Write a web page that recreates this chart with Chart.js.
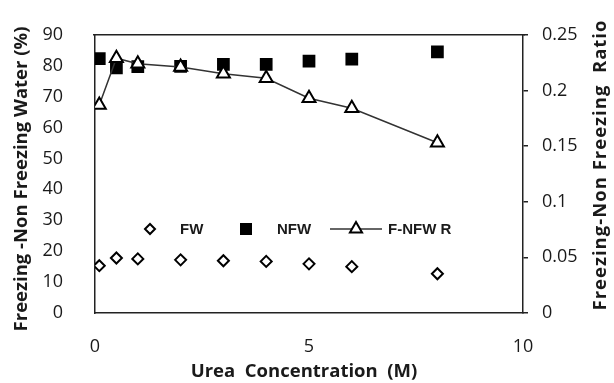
<!DOCTYPE html>
<html><head><meta charset="utf-8">
<script src="https://cdn.jsdelivr.net/npm/chart.js@4.4.0/dist/chart.umd.min.js"></script>
<style>html,body{margin:0;padding:0;background:#fff}#wrap{width:614px;height:383px}</style>
</head><body><div id="wrap"><canvas id="c" width="614" height="383"></canvas></div>
<script>
const urea = [0.1, 0.5, 1, 2, 3, 4, 5, 6, 8];
const fw = [15.3, 17.8, 17.5, 17.2, 16.9, 16.7, 15.9, 15.0, 12.7];
const nfw = [82.3, 79.3, 79.7, 79.8, 80.4, 80.4, 81.5, 82.1, 84.5];
const ratio = [0.187, 0.229, 0.224, 0.221, 0.215, 0.211, 0.193, 0.184, 0.153];
const xTicks = [0, 5, 10];
const leftTicks = [0, 10, 20, 30, 40, 50, 60, 70, 80, 90];
const rightTicks = [0, 0.05, 0.1, 0.15, 0.2, 0.25];
const seriesNames = ['FW', 'NFW', 'F-NFW R'];
const titles = {x: 'Urea  Concentration  (M)', left: 'Freezing -Non Freezing Water (%)', right: 'Freezing-Non Freezing  Ratio'};

const pts = (ys) => urea.map((x, i) => ({x, y: ys[i]}));
const TXT = '#1a1a1a';
const tickFont = {family: 'Open Sans', size: 18};

const overlay = {
  id: 'overlay',
  afterDraw(chart) {
    const ctx = chart.ctx, a = chart.chartArea;
    ctx.save();
    ctx.strokeStyle = '#222'; ctx.lineWidth = 1.5;
    ctx.beginPath(); ctx.moveTo(a.left - 2, a.top); ctx.lineTo(a.right + 2, a.top); ctx.stroke();
    ctx.fillStyle = TXT;
    ctx.font = 'bold 18.5px "Open Sans"';
    ctx.textAlign = 'center'; ctx.textBaseline = 'middle';
    ctx.fillText(titles.x, 304, 372);
    ctx.save(); ctx.translate(22, 179); ctx.rotate(-Math.PI/2); ctx.fillText(titles.left, 0, 0); ctx.restore();
    ctx.save(); ctx.translate(601, 165); ctx.rotate(-Math.PI/2); ctx.letterSpacing = '1px'; ctx.fillText(titles.right, 0, 0); ctx.restore();
    const ly = 229;
    const H = Chart.helpers;
    ctx.font = 'bold 15px "Liberation Sans"';
    ctx.textAlign = 'left';
    ctx.lineWidth = 2; ctx.strokeStyle = '#000'; ctx.fillStyle = '#fff';
    H.drawPoint(ctx, {pointStyle: 'rectRot', radius: 5, borderWidth: 2}, 150, ly);
    ctx.fillStyle = '#000';
    H.drawPoint(ctx, {pointStyle: 'rect', radius: 8.5, borderWidth: 0}, 246, ly);
    ctx.strokeStyle = '#333'; ctx.lineWidth = 1.5;
    ctx.beginPath(); ctx.moveTo(330, ly); ctx.lineTo(382, ly); ctx.stroke();
    ctx.fillStyle = '#fff'; ctx.strokeStyle = '#000'; ctx.lineWidth = 2;
    H.drawPoint(ctx, {pointStyle: 'triangle', radius: 7, borderWidth: 2}, 356, ly);
    ctx.fillStyle = TXT;
    ctx.fillText(seriesNames[0], 180, ly + 1);
    ctx.fillText(seriesNames[1], 277, ly + 1);
    ctx.fillText(seriesNames[2], 388, ly + 1);
    ctx.restore();
  }
};

new Chart(document.getElementById('c'), {
  type: 'scatter',
  data: {
    datasets: [
      {label: seriesNames[0], data: pts(fw), yAxisID: 'y', pointStyle: 'rectRot', pointRadius: 5.5, borderWidth: 2,
       borderColor: '#000', backgroundColor: '#fff', order: 3},
      {label: seriesNames[1], data: pts(nfw), yAxisID: 'y', pointStyle: 'rect', pointRadius: 9, borderWidth: 0,
       borderColor: '#000', backgroundColor: '#000', order: 2},
      {label: seriesNames[2], data: pts(ratio), yAxisID: 'y1', showLine: true, pointStyle: 'triangle', pointRadius: 7.5,
       pointBorderWidth: 2, borderWidth: 1.5, borderColor: '#333', pointBorderColor: '#000', pointBackgroundColor: '#fff', order: 1}
    ]
  },
  options: {
    responsive: false, animation: false, devicePixelRatio: 1,
    layout: {padding: {top: 30, left: 0, right: 0, bottom: 0}},
    plugins: {legend: {display: false}, tooltip: {enabled: false}},
    scales: {
      x: {type: 'linear', min: 0, max: 10,
          afterBuildTicks: s => { s.ticks = xTicks.map(v => ({value: v})); },
          afterFit: s => { s.height = 70; },
          grid: {display: false}, border: {display: true, color: '#222', width: 1.5},
          ticks: {font: tickFont, color: TXT, padding: 15, maxRotation: 0}},
      y: {position: 'left', min: 0, max: 90,
          afterBuildTicks: s => { s.ticks = leftTicks.map(v => ({value: v})); },
          afterFit: s => { s.width = 95; },
          grid: {display: false}, border: {display: true, color: '#222', width: 1.5},
          ticks: {font: tickFont, color: TXT, padding: 24}},
      y1: {position: 'right', min: 0, max: 0.25,
          afterBuildTicks: s => { s.ticks = rightTicks.map(v => ({value: v})); },
          afterFit: s => { s.width = 91; },
          grid: {display: true, drawOnChartArea: false, drawTicks: true, tickLength: 5, color: '#222', lineWidth: 1.5},
          border: {display: true, color: '#222', width: 1.5},
          ticks: {font: tickFont, color: TXT, padding: 14, callback: v => String(v)}}
    }
  },
  plugins: [overlay]
});
</script>
</body></html>
